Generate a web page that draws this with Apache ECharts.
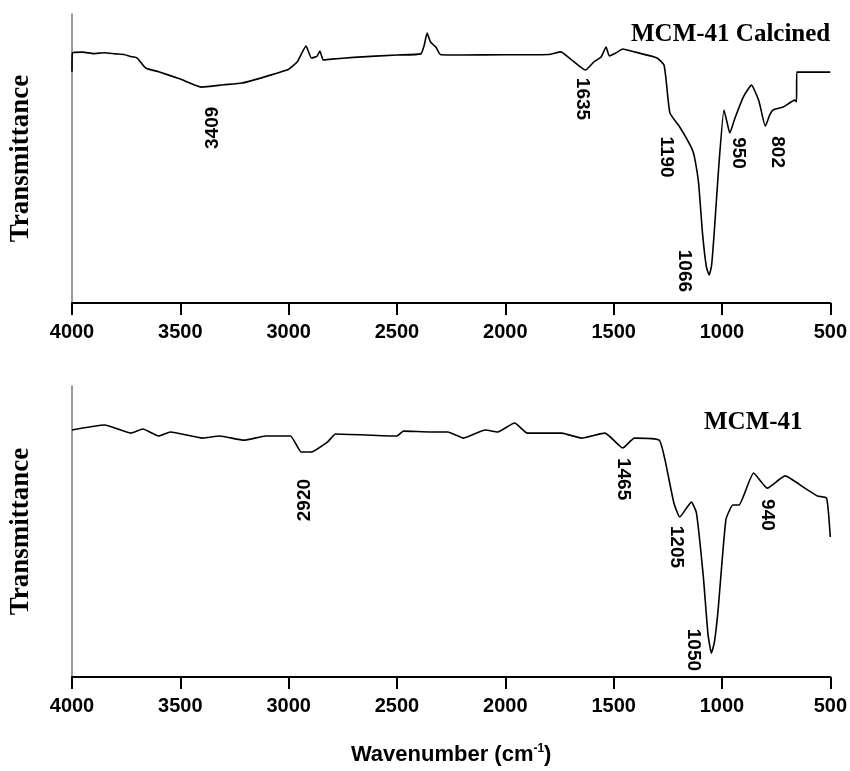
<!DOCTYPE html>
<html>
<head>
<meta charset="utf-8">
<script src="https://cdn.jsdelivr.net/npm/echarts@6/dist/echarts.min.js"></script>
<style>
    html, body { margin: 0; padding: 0; background: #fff; }
    #main { width: 850px; height: 771px; }
</style>
</head>
<body>
<div id="main"></div>
<script>
// wavenumber (cm-1) ticks
var xTicks = [4000, 3500, 3000, 2500, 2000, 1500, 1000, 500]

// MCM-41 calcined spectrum: [wavenumber, transmittance]
var calcinedWave = [4000, 3998, 3950, 3900, 3850, 3800, 3760, 3730, 3700, 3660, 3600, 3500, 3400, 3300, 3215,
    3100, 3000, 2960, 2920, 2895, 2870, 2856, 2840, 2800, 2700, 2500, 2390, 2375, 2361, 2345, 2320, 2300,
    2200, 2000, 1800, 1744, 1700, 1630, 1590, 1558, 1535, 1520, 1490, 1458, 1400, 1300, 1268, 1258, 1240,
    1195, 1140, 1127, 1108, 1090, 1072, 1059, 1048, 1036, 1015, 991, 978, 964, 940, 900, 864, 830, 800,
    780, 764, 718, 664, 656, 655, 500]
var calcinedT = [80, 86.5, 86.8, 86.3, 86.6, 86.2, 86.0, 85.3, 84.8, 81.3, 80.0, 77.5, 74.7, 75.5, 76.1,
    78.5, 80.9, 83.5, 88.9, 84.8, 85.3, 87.2, 84.1, 84.4, 85.0, 85.8, 86.2, 89.0, 93.4, 90.3, 88.5, 86.0,
    85.8, 85.9, 86.0, 86.9, 84.5, 80.6, 83.5, 85.1, 88.6, 85.5, 86.5, 87.9, 86.8, 84.8, 82.4, 77.2, 65.7,
    60.9, 53.6, 50.5, 41.5, 24.2, 12.5, 9.7, 13.0, 24.2, 47.1, 66.8, 63.0, 58.8, 64.0, 71.5, 75.4, 70.0, 61.2,
    65.0, 66.8, 67.8, 70.2, 69.6, 79.9, 79.9]

// MCM-41 spectrum
var mcmWave = [4000, 3850, 3728, 3673, 3600, 3546, 3396, 3319, 3206, 3106, 2992, 2942, 2897, 2820, 2783,
    2502, 2470, 2343, 2266, 2193, 2093, 2035, 1957, 1898, 1739, 1649, 1540, 1458, 1404, 1290, 1263, 1222,
    1195, 1141, 1118, 1086, 1065, 1049, 1035, 1018, 982, 950, 922, 854, 791, 709, 618, 559, 518, 508, 500]
var mcmT = [84.9, 86.6, 83.8, 85.2, 82.8, 84.2, 82.1, 82.8, 81.4, 82.8, 82.8, 77.3, 77.3, 80.8, 83.5,
    82.8, 84.5, 84.2, 84.2, 82.1, 84.9, 84.2, 87.3, 83.8, 83.8, 82.1, 83.8, 78.7, 82.1, 81.4, 74.6, 59.8,
    55.0, 60.1, 56.4, 34.4, 15.0, 8.2, 12.0, 23.0, 54.0, 59.1, 59.1, 70.1, 64.9, 69.1, 64.9, 62.2, 61.5, 56.0, 48.1]

// band labels and where they sit [wavenumber, transmittance]
var calcinedBands = ['3409', '1635', '1190', '950', '802', '1066']
var calcinedBandPos = [[3351, 60.6], [1644, 70.6], [1258, 50.5], [927, 51.9], [745, 52.2], [1172, 11.1]]
var mcmBands = ['2920', '1465', '1205', '1050', '940']
var mcmBandPos = [[2924, 60.8], [1458, 68.0], [1213, 44.7], [1131, 9.3], [791, 55.7]]
// labels that read bottom-to-top
var upwardBands = ['3409', '2920']

var SANS = '"Liberation Sans", Arial, sans-serif'
var SERIF = '"Liberation Serif", "Times New Roman", serif'

function zip(a, b) {
    return a.map(function (v, i) { return [v, b[i]] })
}

function bandData(names, pos) {
    return names.map(function (n, i) {
        return {
            value: pos[i],
            label: { rotate: upwardBands.indexOf(n) >= 0 ? 90 : -90 },
            name: n
        }
    })
}

function xAxisOf(idx, showName) {
    return {
        gridIndex: idx,
        type: 'value',
        min: xTicks[xTicks.length - 1],
        max: xTicks[0],
        interval: xTicks[0] - xTicks[1],
        inverse: true,
        name: showName ? '{b|Wavenumber (cm}{s|-1}{b|)}' : '',
        nameLocation: 'middle',
        nameGap: 66,
        nameTextStyle: {
            rich: {
                b: { fontFamily: SANS, fontWeight: 'bold', fontSize: 22, color: '#000' },
                s: { fontFamily: SANS, fontWeight: 'bold', fontSize: 12, color: '#000', verticalAlign: 'top', padding: [0, 0, 12, 0] }
            }
        },
        axisLine: { onZero: false, lineStyle: { color: '#000', width: 2 } },
        axisTick: { show: true, inside: false, length: 12, lineStyle: { color: '#000', width: 2 } },
        axisLabel: {
            margin: 19,
            color: '#000',
            fontFamily: SANS,
            fontWeight: 'bold',
            fontSize: 20,
            showMinLabel: true,
            showMaxLabel: true,
            formatter: function (v) { return String(v) }
        },
        splitLine: { show: false }
    }
}

function yAxisOf(idx) {
    return {
        gridIndex: idx,
        type: 'value',
        min: 0,
        max: 100,
        name: 'Transmittance',
        nameLocation: 'middle',
        nameGap: 37,
        nameRotate: 90,
        nameTextStyle: { fontFamily: SERIF, fontWeight: 'bold', fontSize: 27, color: '#000' },
        axisLine: { show: true, lineStyle: { color: '#777', width: 1.5 } },
        axisTick: { show: false },
        axisLabel: { show: false },
        splitLine: { show: false }
    }
}

function lineSeries(idx, data) {
    return {
        type: 'line',
        xAxisIndex: idx,
        yAxisIndex: idx,
        data: data,
        showSymbol: false,
        smooth: 0.15,
        lineStyle: { color: '#000', width: 1.6 },
        silent: true,
        animation: false
    }
}

function bandSeries(idx, names, pos) {
    return {
        type: 'scatter',
        xAxisIndex: idx,
        yAxisIndex: idx,
        symbolSize: 0,
        itemStyle: { opacity: 1 },
        data: bandData(names, pos),
        label: {
            show: true,
            position: 'inside',
            formatter: '{b}',
            color: '#000',
            opacity: 1,
            fontFamily: SANS,
            fontWeight: 'bold',
            fontSize: 19
        },
        silent: true,
        animation: false
    }
}

var chart = echarts.init(document.getElementById('main'), null, { renderer: 'canvas' })
chart.setOption({
    backgroundColor: '#fff',
    animation: false,
    title: [
        {
            text: 'MCM-41 Calcined',
            left: 626, top: 17,
            textStyle: { fontFamily: SERIF, fontWeight: 'bold', fontSize: 25, color: '#000' }
        },
        {
            text: 'MCM-41',
            left: 699, top: 405,
            textStyle: { fontFamily: SERIF, fontWeight: 'bold', fontSize: 25, color: '#000' }
        }
    ],
    grid: [
        { left: 60, right: 19, top: 14, height: 289 },
        { left: 60, right: 19, top: 386, height: 291 }
    ],
    xAxis: [xAxisOf(0, false), xAxisOf(1, true)],
    yAxis: [yAxisOf(0), yAxisOf(1)],
    series: [
        lineSeries(0, zip(calcinedWave, calcinedT)),
        lineSeries(1, zip(mcmWave, mcmT)),
        bandSeries(0, calcinedBands, calcinedBandPos),
        bandSeries(1, mcmBands, mcmBandPos)
    ]
})
</script>
</body>
</html>
